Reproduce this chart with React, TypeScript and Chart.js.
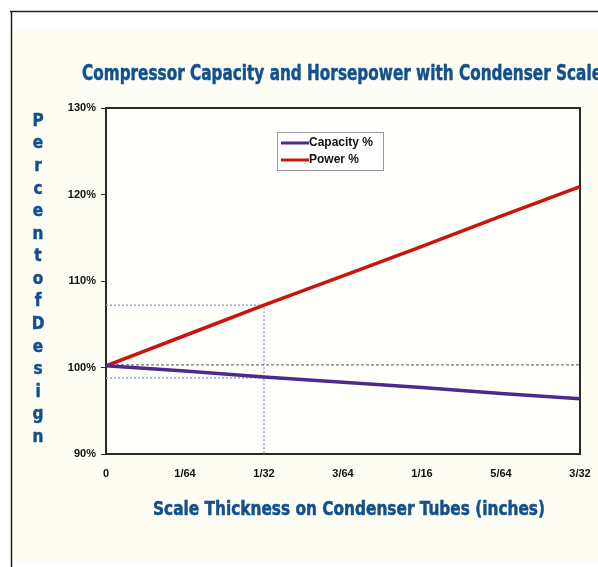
import { useEffect, useRef } from 'react';
import { Chart, registerables } from 'chart.js';

Chart.register(...registerables);

// ---- data ----
const thicknessLabels = ['0', '1/64', '1/32', '3/64', '1/16', '5/64', '3/32'];
const thickness64ths = [0, 1, 2, 3, 4, 5, 6];
const capacityPct = [100.2, 99.6, 98.9, 98.3, 97.7, 97.0, 96.4];
const powerPct = [100.2, 103.7, 107.2, 110.6, 114.0, 117.5, 120.9];
const designLevel = 100.3;
const markThickness = 2; // 1/32 inch in 64ths
const markPower = 107.2;
const markCapacity = 98.8;
const yMin = 90;
const yMax = 130;
const yStep = 10;

const titleText = 'Compressor Capacity and Horsepower with Condenser Scale';
const xTitleText = 'Scale Thickness on Condenser Tubes (inches)';
const yTitleText = 'Percent of Design';

const BLUE = '#12508e';
const NARROW = '"Liberation Sans Narrow", "DejaVu Sans Condensed", "Liberation Sans", Arial, sans-serif';
const SANS = '"Liberation Sans", Arial, sans-serif';

function drawFitted(ctx: CanvasRenderingContext2D, text: string, x: number, y: number, width: number, font: string) {
  ctx.save();
  ctx.font = font;
  const w = ctx.measureText(text).width;
  ctx.translate(x, y);
  ctx.scale(width / w, 1);
  ctx.textAlign = 'left';
  ctx.textBaseline = 'alphabetic';
  ctx.lineWidth = 0.5;
  ctx.strokeStyle = BLUE;
  ctx.fillText(text, 0, 0);
  ctx.strokeText(text, 0, 0);
  ctx.restore();
}

const decorPlugin = {
  id: 'decor',
  beforeDraw(chart: any) {
    const ctx = chart.ctx as CanvasRenderingContext2D;
    ctx.save();
    ctx.fillStyle = '#ffffff';
    ctx.fillRect(0, 0, chart.width, chart.height);
    ctx.fillStyle = '#fdfdf4';
    ctx.fillRect(12, 30, chart.width - 12, 532);
    ctx.strokeStyle = '#222';
    ctx.lineWidth = 1.5;
    ctx.beginPath();
    ctx.moveTo(10, 11.5);
    ctx.lineTo(chart.width, 11.5);
    ctx.moveTo(11.5, 11);
    ctx.lineTo(11.5, chart.height);
    ctx.stroke();
    ctx.restore();
  },
  beforeDatasetsDraw(chart: any) {
    const ctx = chart.ctx as CanvasRenderingContext2D;
    const a = chart.chartArea;
    ctx.save();
    ctx.fillStyle = '#fffffb';
    ctx.fillRect(a.left, a.top, a.right - a.left, a.bottom - a.top);
    ctx.strokeStyle = '#2b2a22';
    ctx.lineWidth = 2;
    ctx.strokeRect(a.left, a.top, a.right - a.left, a.bottom - a.top);
    ctx.restore();
  },
  afterDraw(chart: any) {
    const ctx = chart.ctx as CanvasRenderingContext2D;
    const a = chart.chartArea;
    ctx.save();
    ctx.fillStyle = BLUE;
    // main title
    drawFitted(ctx, titleText, 82, 80, 520, `bold 22px ${NARROW}`);
    // x axis title
    drawFitted(ctx, xTitleText, 153, 515, 392, `bold 19.5px ${NARROW}`);
    // y axis title, stacked letters
    const letters = yTitleText.replace(/ /g, '').split('');
    const top = 121;
    const bottom = 437;
    const step = (bottom - top) / (letters.length - 1);
    ctx.font = `bold 18.5px ${NARROW}`;
    ctx.textAlign = 'center';
    ctx.textBaseline = 'middle';
    ctx.strokeStyle = BLUE;
    ctx.lineWidth = 0.5;
    letters.forEach((ch, i) => {
      ctx.save();
      ctx.translate(38, top + i * step);
      ctx.scale(0.92, 1);
      ctx.fillText(ch, 0, 0);
      ctx.strokeText(ch, 0, 0);
      ctx.restore();
    });

    // legend
    const lx = a.left + 171;
    const ly = a.top + 24;
    const lw = 106;
    const lh = 38;
    ctx.fillStyle = '#ffffff';
    ctx.fillRect(lx, ly, lw, lh);
    ctx.strokeStyle = '#9a9a9a';
    ctx.lineWidth = 1;
    ctx.strokeRect(lx + 0.5, ly + 0.5, lw, lh);
    const items = chart.data.datasets.filter((d: any) => d.inLegend);
    items.forEach((d: any, i: number) => {
      const y = ly + 11 + i * 17;
      ctx.strokeStyle = d.borderColor;
      ctx.lineWidth = 3;
      ctx.beginPath();
      ctx.moveTo(lx + 4, y);
      ctx.lineTo(lx + 32, y);
      ctx.stroke();
      ctx.fillStyle = '#111';
      ctx.font = `bold 12px ${SANS}`;
      ctx.textAlign = 'left';
      ctx.textBaseline = 'middle';
      ctx.fillText(d.label, lx + 32, y);
    });
    ctx.restore();
  },
};

export default function App() {
  const ref = useRef<HTMLCanvasElement | null>(null);

  useEffect(() => {
    if (!ref.current) return;
    const pts = (ys: number[]) => thickness64ths.map((x, i) => ({ x, y: ys[i] }));
    const chart = new Chart(ref.current, {
      type: 'line',
      data: {
        datasets: [
          {
            label: 'Capacity %',
            inLegend: true,
            data: pts(capacityPct),
            borderColor: '#4a2a8c',
            borderWidth: 3.5,
            pointRadius: 0,
            tension: 0,
          } as any,
          {
            label: 'Power %',
            inLegend: true,
            data: pts(powerPct),
            borderColor: '#c8160f',
            borderWidth: 3.5,
            pointRadius: 0,
            tension: 0,
          } as any,
          {
            label: 'design',
            data: [
              { x: thickness64ths[0], y: designLevel },
              { x: thickness64ths[thickness64ths.length - 1], y: designLevel },
            ],
            borderColor: '#555',
            borderWidth: 1,
            borderDash: [3, 2],
            pointRadius: 0,
          },
          {
            label: 'power marker',
            data: [
              { x: 0, y: markPower },
              { x: markThickness, y: markPower },
              { x: markThickness, y: yMin },
            ],
            borderColor: '#8ea8d8',
            borderWidth: 1.5,
            borderDash: [2, 2],
            pointRadius: 0,
          },
          {
            label: 'capacity marker',
            data: [
              { x: 0, y: markCapacity },
              { x: markThickness, y: markCapacity },
            ],
            borderColor: '#8ea8d8',
            borderWidth: 1.5,
            borderDash: [2, 2],
            pointRadius: 0,
          },
        ],
      },
      options: {
        responsive: false,
        animation: false,
        layout: { padding: { left: 56, right: 18, top: 108, bottom: 73 } },
        plugins: {
          legend: { display: false },
          title: { display: false },
          tooltip: { enabled: false },
        },
        scales: {
          x: {
            type: 'linear',
            min: thickness64ths[0],
            max: thickness64ths[thickness64ths.length - 1],
            grid: { display: false, drawTicks: false },
            border: { display: false },
            ticks: {
              stepSize: 1,
              autoSkip: false,
              maxRotation: 0,
              padding: 13,
              color: '#111',
              font: { family: SANS, size: 11, weight: 'bold' },
              callback: (v: any) => thicknessLabels[v] ?? '',
            },
            afterFit: (s: any) => {
              s.height = 40;
              s.paddingLeft = 0;
              s.paddingRight = 0;
            },
          },
          y: {
            min: yMin,
            max: yMax,
            grid: { drawOnChartArea: false, tickLength: 5, color: '#333', lineWidth: 1 },
            border: { display: false },
            ticks: {
              stepSize: yStep,
              padding: 5,
              color: '#111',
              font: { family: SANS, size: 11, weight: 'bold' },
              callback: (v: any) => `${v}%`,
            },
            afterFit: (s: any) => {
              s.width = 50;
              s.paddingTop = 0;
              s.paddingBottom = 0;
            },
          },
        },
      } as any,
      plugins: [decorPlugin],
    });
    return () => chart.destroy();
  }, []);

  return (
    <div style={{ position: 'fixed', left: 0, top: 0, width: 598, height: 567 }}>
      <canvas ref={ref} width={598} height={567} style={{ display: 'block' }} />
    </div>
  );
}
